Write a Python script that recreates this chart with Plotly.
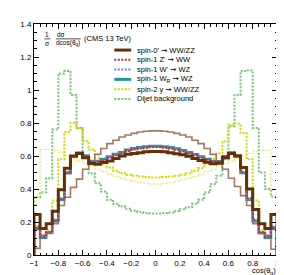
import numpy as np
import plotly.graph_objects as go

# ---------------- data ----------------
bin_edges = [round(-1 + 0.05 * i, 2) for i in range(41)]

spin0_wwzz = [0.245,0.160,0.190,0.265,0.395,0.525,0.600,0.615,0.590,0.555,0.550,0.560,0.570,0.585,0.600,0.610,0.615,0.620,0.625,0.627,
              0.627,0.625,0.620,0.613,0.607,0.598,0.585,0.572,0.562,0.553,0.556,0.590,0.615,0.602,0.530,0.400,0.275,0.190,0.160,0.245]
spin1_zp_ww = [0.165,0.110,0.140,0.210,0.340,0.500,0.600,0.620,0.600,0.565,0.565,0.575,0.590,0.605,0.615,0.630,0.640,0.645,0.650,0.655,
               0.655,0.650,0.645,0.638,0.628,0.615,0.603,0.590,0.577,0.566,0.565,0.600,0.622,0.602,0.505,0.345,0.215,0.140,0.110,0.165]
spin1_wp_wz = [0.170,0.112,0.138,0.215,0.345,0.505,0.598,0.618,0.598,0.568,0.566,0.578,0.592,0.607,0.618,0.632,0.642,0.648,0.652,0.656,
               0.656,0.652,0.646,0.640,0.630,0.617,0.605,0.592,0.578,0.567,0.566,0.598,0.620,0.600,0.500,0.340,0.212,0.138,0.112,0.170]
spin1_wr_wz = [0.160,0.105,0.135,0.205,0.335,0.495,0.597,0.620,0.602,0.570,0.570,0.582,0.597,0.612,0.623,0.637,0.647,0.653,0.658,0.660,
               0.660,0.657,0.652,0.645,0.635,0.622,0.610,0.596,0.582,0.570,0.568,0.598,0.620,0.598,0.497,0.335,0.205,0.133,0.105,0.160]
spin0_alt = [0.040,0.120,0.130,0.190,0.300,0.350,0.410,0.460,0.520,0.560,0.610,0.645,0.675,0.695,0.715,0.727,0.737,0.745,0.750,0.752,
             0.752,0.750,0.745,0.737,0.727,0.715,0.695,0.675,0.645,0.610,0.555,0.520,0.465,0.415,0.360,0.300,0.190,0.130,0.120,0.035]
spin2_wwzz = [0.175,0.120,0.150,0.330,0.580,0.745,0.800,0.770,0.690,0.640,0.590,0.555,0.530,0.510,0.495,0.485,0.480,0.475,0.472,0.470,
              0.470,0.472,0.476,0.481,0.487,0.496,0.510,0.528,0.552,0.585,0.615,0.690,0.790,0.795,0.740,0.580,0.330,0.150,0.120,0.175]
spin2_alt = [0.355,0.640,0.640,0.635,0.620,0.600,0.585,0.570,0.555,0.540,0.520,0.505,0.490,0.475,0.465,0.455,0.447,0.440,0.435,0.430,
             0.430,0.435,0.440,0.447,0.455,0.465,0.475,0.490,0.505,0.520,0.540,0.555,0.570,0.585,0.600,0.615,0.630,0.635,0.635,0.350]
dijet_bkg = [0.350,0.380,0.465,0.760,1.100,1.115,0.970,0.770,0.600,0.495,0.435,0.385,0.335,0.310,0.295,0.280,0.268,0.260,0.255,0.252,
             0.252,0.254,0.258,0.266,0.278,0.290,0.310,0.335,0.380,0.430,0.480,0.580,0.780,0.970,1.115,1.120,0.770,0.500,0.400,0.355]

legend_labels = ["spin-0\u2032 \u2192 WW/ZZ", "spin-1 Z' \u2192 WW", "spin-1 W' \u2192 WZ",
                 "spin-1 W<sub>R</sub> \u2192 WZ", "spin-2 y \u2192 WW/ZZ", "Dijet background"]
x_title = "cos(\u03b8<sub>q</sub>)"
header_text = "(CMS 13 TeV)"

# ---------------- styles ----------------
BROWN = "rgb(100,48,5)"
TAN = "rgb(165,120,95)"
RED = "rgb(200,45,45)"
BLUE = "rgb(125,125,230)"
TEAL = "rgb(35,150,160)"
YELLOW = "rgb(215,215,0)"
YELLOW2 = "rgb(225,225,70)"
GREEN = "rgb(115,200,115)"
DOT = "2px,1.5px"

FONT = "Liberation Sans, Arial, sans-serif"
W, H = 284, 275
ML, MR, MT, MB = 25, 14, 14, 28


def step(vals):
    xs = [bin_edges[0]] + bin_edges[:-1] + [bin_edges[-1], bin_edges[-1]]
    ys = [0] + list(vals) + [vals[-1], 0]
    return xs, ys


fig = go.Figure()
series = [
    (dijet_bkg, GREEN, 2, DOT),
    (spin2_alt, YELLOW2, 1, DOT),
    (spin2_wwzz, YELLOW, 2, DOT),
    (spin0_alt, TAN, 1.6, "solid"),
    (spin1_wr_wz, TEAL, 2.6, "solid"),
    (spin1_wp_wz, BLUE, 2, DOT),
    (spin1_zp_ww, RED, 2, DOT),
    (spin0_wwzz, BROWN, 3, "solid"),
]
for vals, col, wdt, dash in series:
    xs, ys = step(vals)
    fig.add_trace(go.Scatter(x=xs, y=ys, mode="lines", line_shape="hv",
                             line=dict(color=col, width=wdt, dash=dash),
                             showlegend=False, hoverinfo="skip"))


def px2paper(px, py):
    return (px - ML) / (W - ML - MR), (H - MB - py) / (H - MT - MB)


shapes = []
annotations = []

# manual legend
leg_styles = [(BROWN, 3, "solid"), (RED, 2, DOT), (BLUE, 2, DOT),
              (TEAL, 3, "solid"), (YELLOW, 2, DOT), (GREEN, 2, DOT)]
for i, (lab, (col, wdt, dash)) in enumerate(zip(legend_labels, leg_styles)):
    py = 40.3 + 9.85 * i
    x0, y0 = px2paper(106, py)
    x1, _ = px2paper(123, py)
    shapes.append(dict(type="line", xref="paper", yref="paper", x0=x0, x1=x1, y0=y0, y1=y0,
                       line=dict(color=col, width=wdt, dash=dash)))
    tx, ty = px2paper(127, py)
    lab_html = lab.replace("\u2192", "<span style='font-family:DejaVu Sans'>\u2192</span>")
    annotations.append(dict(xref="paper", yref="paper", x=tx, y=ty, text=lab_html, showarrow=False,
                            xanchor="left", yanchor="middle",
                            font=dict(family=FONT, size=7.5, color="black")))

# y-axis label as fraction in the top-left corner
def ann(px, py, text, size=7, xanchor="center"):
    x, y = px2paper(px, py)
    annotations.append(dict(xref="paper", yref="paper", x=x, y=y, text=text, showarrow=False,
                            xanchor=xanchor, yanchor="middle",
                            font=dict(family=FONT, size=size, color="black")))

ann(38.5, 24.5, "1", 6.5)
ann(38.5, 33.5, "\u03c3", 6.5)
ann(52, 24.5, "d\u03c3", 6.5)
ann(59.5, 33.5, "dcos(\u03b8<sub>q</sub>)", 6.5)
ann(73, 29, header_text, 7.5, "left")
for (a, b) in [(35.5, 41.5), (47, 72)]:
    xa, yl = px2paper(a, 29)
    xb, _ = px2paper(b, 29)
    shapes.append(dict(type="line", xref="paper", yref="paper", x0=xa, x1=xb, y0=yl, y1=yl,
                       line=dict(color="black", width=0.7)))

# x-axis title bottom-right
xt, yt = px2paper(270.5, 263)
annotations.append(dict(xref="paper", yref="paper", x=xt, y=yt, text=x_title, showarrow=False,
                        xanchor="right", yanchor="middle", borderpad=0,
                        font=dict(family=FONT, size=7.5, color="black")))

axis_common = dict(showgrid=False, zeroline=False, showline=True, linecolor="black", linewidth=1,
                   mirror="ticks", ticks="inside", ticklen=5, tickwidth=1, tickcolor="black",
                   tickfont=dict(family=FONT, size=8, color="black"))

fig.update_layout(
    width=W, height=H,
    margin=dict(l=ML, r=MR, t=MT, b=MB, pad=0),
    paper_bgcolor="white", plot_bgcolor="white",
    xaxis=dict(range=[-1, 1], dtick=0.2, tick0=-1,
               minor=dict(ticks="inside", dtick=0.05, ticklen=2.5, tickcolor="black", tickwidth=1),
               **axis_common),
    yaxis=dict(range=[0, 1.4], dtick=0.2, tick0=0,
               minor=dict(ticks="inside", dtick=0.05, ticklen=2.5, tickcolor="black", tickwidth=1),
               **axis_common),
    shapes=shapes, annotations=annotations,
    showlegend=False,
)

fig.write_html("out.html")
